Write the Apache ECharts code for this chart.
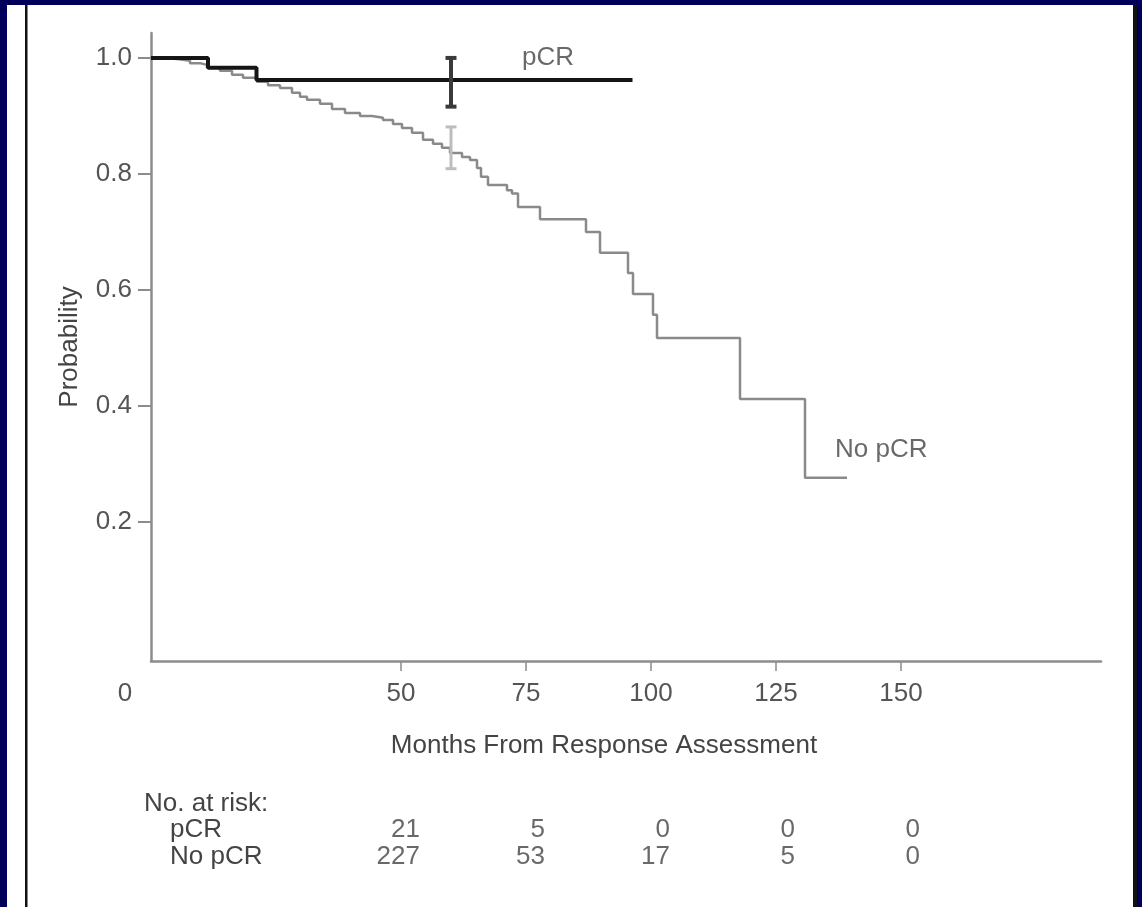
<!DOCTYPE html>
<html>
<head>
<meta charset="utf-8">
<script src="https://cdn.jsdelivr.net/npm/echarts@6/dist/echarts.min.js"></script>
<style>
  html, body { margin: 0; padding: 0; background: #00005a; }
  #chart { width: 1142px; height: 907px; }
</style>
</head>
<body>
<div id="chart"></div>
<script>
// ---- data ----
const pcrMonths = [0, 11.4, 21.1, 96.3];
const pcrSurv   = [1.0, 0.983, 0.962, 0.962];

const noPcrMonths = [0, 2.8, 5.2, 7.8, 9.8, 11.2, 13.8, 16.2, 18.4, 21.2, 23.4, 25.8, 28.2, 29.8, 31.2, 33.8, 36.2, 38.8, 41.8, 44.2, 46.4, 48.4, 50.2, 52.2, 54.4, 56.4, 58.2, 59.8, 62.2, 63.8, 65.2, 66.0, 67.4, 71.2, 72.2, 73.4, 77.8, 87.0, 89.8, 95.4, 96.4, 100.4, 101.2, 117.8, 130.8, 139.2];
const noPcrSurv   = [1.0, 0.998, 0.995, 0.991, 0.988, 0.983, 0.978, 0.971, 0.966, 0.959, 0.953, 0.948, 0.940, 0.933, 0.928, 0.921, 0.912, 0.905, 0.900, 0.897, 0.893, 0.886, 0.879, 0.871, 0.859, 0.852, 0.845, 0.836, 0.829, 0.824, 0.810, 0.795, 0.781, 0.772, 0.766, 0.743, 0.722, 0.700, 0.664, 0.629, 0.593, 0.557, 0.517, 0.412, 0.276, 0.276];

const ciMonth  = 60;
const pcrCI    = [0.916, 1.0];
const noPcrCI  = [0.809, 0.881];

const xTickValues  = [50, 75, 100, 125, 150];
const xLabelValues = [0, 50, 75, 100, 125, 150];
const yTickValues  = [0.2, 0.4, 0.6, 0.8, 1.0];

const riskGroups = ['pCR', 'No pCR'];
const riskMonths = [50, 75, 100, 125, 150];
const riskPcr    = [21, 5, 0, 0, 0];
const riskNoPcr  = [227, 53, 17, 5, 0];

// ---- build ----
const FONT = "'Liberation Sans', Arial, Helvetica, sans-serif";
const zip = (a, b) => a.map((v, i) => [v, b[i]]);

function errorBarSeries(ci, color, width) {
  return {
    type: 'custom',
    xAxisIndex: 0, yAxisIndex: 0,
    z: 5,
    data: [[ciMonth, ci[0], ci[1]]],
    renderItem: function (params, api) {
      const lo = api.coord([api.value(0), api.value(1)]);
      const hi = api.coord([api.value(0), api.value(2)]);
      const hw = 5.5;
      const st = { stroke: color, lineWidth: width };
      return {
        type: 'group',
        children: [
          { type: 'line', shape: { x1: lo[0], y1: lo[1], x2: hi[0], y2: hi[1] }, style: st },
          { type: 'line', shape: { x1: lo[0] - hw, y1: lo[1], x2: lo[0] + hw, y2: lo[1] }, style: st },
          { type: 'line', shape: { x1: hi[0] - hw, y1: hi[1], x2: hi[0] + hw, y2: hi[1] }, style: st }
        ]
      };
    }
  };
}

const riskData = [];
riskMonths.forEach((m, i) => {
  riskData.push([m, riskGroups[0], riskPcr[i]]);
  riskData.push([m, riskGroups[1], riskNoPcr[i]]);
});

const chart = echarts.init(document.getElementById('chart'), null, { renderer: 'canvas' });
chart.setOption({
  backgroundColor: '#00005a',
  animation: false,
  textStyle: { fontFamily: FONT },
  graphic: [
    { type: 'rect', z: -10, shape: { x: 7, y: 5, width: 1130, height: 902 }, style: { fill: '#ffffff' } },
    { type: 'rect', z: -9, shape: { x: 25, y: 5, width: 2.5, height: 902 }, style: { fill: '#111111' } },
    { type: 'rect', z: -9, shape: { x: 1133, y: 5, width: 4, height: 902 }, style: { fill: '#111111' } }
  ],
  title: {
    text: 'No. at risk:',
    left: 139, top: 786,
    textStyle: { fontFamily: FONT, fontSize: 26, fontWeight: 'normal', color: '#444' }
  },
  grid: [
    { left: 151, top: 33, width: 950, height: 628 },
    { left: 151, top: 816, width: 950, height: 54 }
  ],
  xAxis: [
    {
      type: 'value', gridIndex: 0, min: 0, max: 190,
      name: 'Months From Response Assessment',
      nameLocation: 'middle', nameGap: 72,
      nameTextStyle: { fontFamily: FONT, fontSize: 26, color: '#444', padding: [0, 44, 0, 0] },
      axisLine: { show: true, onZero: false, lineStyle: { color: '#8c8c8c', width: 2.5 } },
      axisTick: { show: true, customValues: xTickValues, length: 10, lineStyle: { color: '#8c8c8c', width: 1.5 } },
      axisLabel: {
        show: true, customValues: xLabelValues, margin: 20,
        fontFamily: FONT, fontSize: 26, color: '#555',
        formatter: v => v === 0 ? '{z|0}' : String(v),
        rich: { z: { fontFamily: FONT, fontSize: 26, color: '#555', padding: [0, 52, 0, 0] } }
      },
      splitLine: { show: false }
    },
    {
      type: 'value', gridIndex: 1, min: 0, max: 190, show: false
    }
  ],
  yAxis: [
    {
      type: 'value', gridIndex: 0, min: -0.04, max: 1.043,
      name: 'Probability',
      nameLocation: 'middle', nameGap: 68,
      nameTextStyle: { fontFamily: FONT, fontSize: 26, color: '#444' },
      axisLine: { show: true, onZero: false, lineStyle: { color: '#8c8c8c', width: 2.5 } },
      axisTick: { show: true, customValues: yTickValues, length: 13, lineStyle: { color: '#8c8c8c', width: 2 } },
      axisLabel: {
        show: true, customValues: yTickValues, margin: 19,
        fontFamily: FONT, fontSize: 26, color: '#555',
        formatter: v => v.toFixed(1)
      },
      splitLine: { show: false }
    },
    {
      type: 'category', gridIndex: 1, data: riskGroups, inverse: true,
      axisLine: { show: false }, axisTick: { show: false }, splitLine: { show: false },
      axisLabel: { show: true, interval: 0, hideOverlap: false, align: 'left', margin: -19, fontFamily: FONT, fontSize: 26, color: '#444' }
    }
  ],
  series: [
    {
      name: 'No pCR', type: 'line', step: 'end',
      xAxisIndex: 0, yAxisIndex: 0,
      data: zip(noPcrMonths, noPcrSurv),
      showSymbol: false, symbol: 'none',
      lineStyle: { color: '#8a8a8a', width: 2.5 },
      z: 3
    },
    {
      name: 'pCR', type: 'line', step: 'end',
      xAxisIndex: 0, yAxisIndex: 0,
      data: zip(pcrMonths, pcrSurv),
      showSymbol: false, symbol: 'none',
      lineStyle: { color: '#151515', width: 4 },
      z: 4
    },
    errorBarSeries(noPcrCI, '#bdbdbd', 3),
    errorBarSeries(pcrCI, '#3a3a3a', 4),
    {
      type: 'scatter', xAxisIndex: 0, yAxisIndex: 0,
      symbolSize: 0, silent: true, z: 6,
      data: [
        { value: [74.2, 1.0], label: { formatter: 'pCR' } },
        { value: [136.8, 0.324], label: { formatter: 'No pCR' } }
      ],
      label: { show: true, position: 'right', distance: 0, fontFamily: FONT, fontSize: 26, color: '#444' }
    },
    {
      type: 'scatter', xAxisIndex: 1, yAxisIndex: 1,
      symbolSize: 0, silent: true,
      data: riskData,
      label: {
        show: true, position: 'left', distance: -19,
        fontFamily: FONT, fontSize: 26, color: '#444',
        formatter: p => String(p.value[2])
      }
    }
  ]
});
</script>
</body>
</html>
